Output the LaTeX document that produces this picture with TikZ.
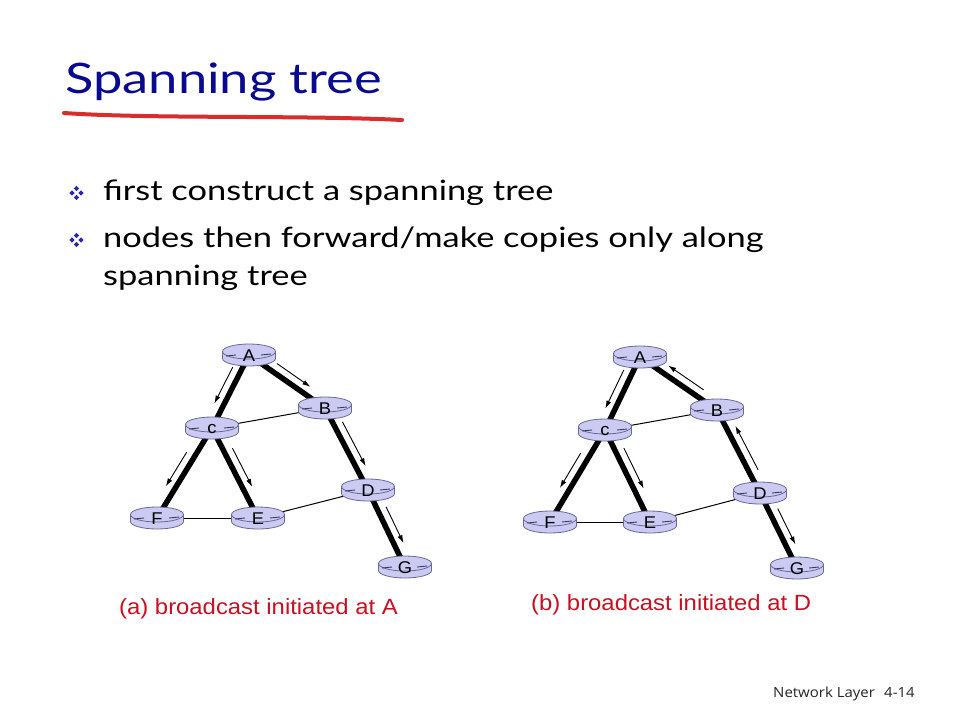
\documentclass[tikz,border=0pt]{standalone}
\usepackage{graphicx}
\usepackage{fontspec}
\setmainfont{Lato}
\newfontfamily\arialf{Liberation Sans}
\newfontfamily\footf{Open Sans}
\usetikzlibrary{calc,arrows.meta,backgrounds}
\definecolor{titleblue}{RGB}{10,10,145}
\definecolor{ulred}{RGB}{215,45,45}
\definecolor{capred}{RGB}{200,16,32}
\definecolor{bulblue}{RGB}{40,40,170}
\definecolor{rfill}{RGB}{202,202,242}
\definecolor{rline}{RGB}{105,105,150}
\definecolor{rdash}{RGB}{60,60,90}
\newcommand\wide[2]{\scalebox{#1}[1]{#2}}
\tikzset{
  pics/router/.style={code={
    \path[fill=rfill,draw=rline,line width=0.8pt] (0,3.5) ellipse [x radius=26.5pt, y radius=7.5pt];
    \fill[rfill] (-26.5,-3.5) rectangle (26.5,3.5);
    \draw[rline,line width=0.8pt] (-26.5,-3.5) -- (-26.5,3.5) (26.5,-3.5) -- (26.5,3.5);
    \path[fill=rfill,draw=rline,line width=0.8pt] (0,-3.5) ellipse [x radius=26.5pt, y radius=7.5pt];
    \draw[rdash,line width=0.9pt] (-23,1) -- (-13,0) (12,0) -- (22,-1);
    \node[font=\arialf\fontsize{17}{17}\selectfont,inner sep=0pt] (-lbl) at (0,1) {\wide{1.08}{#1}};
  }},
  tree/.style={line width=5.5pt,line cap=butt},
  plain/.style={line width=1pt},
  flow/.style={line width=0.9pt,-{Latex[length=8pt,width=5pt]}},
  bullet/.style={fill=bulblue},
  bodytext/.style={anchor=base west,inner sep=0pt,font=\fontsize{28}{28}\selectfont},
  caption/.style={anchor=base west,inner sep=0pt,text=capred,font=\arialf\fontsize{22}{22}\selectfont},
  foottext/.style={anchor=base west,inner sep=0pt,text=black!85,font=\footf\fontsize{14}{14}\selectfont},
}
% arrow parallel to edge: from, to, t1, t2, signed angle
\newcommand\flowarr[5]{\draw[flow] ($(#1)!#3!(#2)!9pt!#5:(#2)$) -- ($(#1)!#4!(#2)!9pt!#5:(#2)$);}
\newcommand\bul[1]{%
  \foreach \dx/\dy in {0/-4.5,0/4.5,-4.5/0,4.5/0}
    \fill[bullet] ($(#1)+(\dx,\dy)$) +(0,-2.6) -- +(2.6,0) -- +(0,2.6) -- +(-2.6,0) -- cycle;}
\begin{document}
\begin{tikzpicture}[x=1pt,y=-1pt]
\useasboundingbox (0,0) rectangle (960,720);
\fill[white] (0,0) rectangle (960,720);

% title
\node[anchor=base west,inner sep=0pt,text=titleblue,font=\fontsize{42}{42}\selectfont] (title) at (65,93) {\wide{1.25}{Spanning tree}};
\coordinate (ul1) at (64,113);
\coordinate (ul2) at (402,120);
\draw[ulred,line width=4pt,line cap=round] (ul1) .. controls (150,119) and (300,115) .. (ul2);

% bullets
\coordinate (b1) at (76.5,193);
\coordinate (b2) at (76.5,240);
\bul{b1}
\bul{b2}
\node[bodytext] (t1) at (103,200) {\wide{1.23}{first construct a spanning tree}};
\node[bodytext] (t2) at (103,247) {\wide{1.23}{nodes then forward/make copies only along}};
\node[bodytext] (t3) at (103,285) {\wide{1.23}{spanning tree}};

% ---------- diagram (a)
\coordinate (aA) at (249,355);
\coordinate (aB) at (325,408);
\coordinate (aC) at (212,428);
\coordinate (aD) at (368,490);
\coordinate (aF) at (157,518);
\coordinate (aE) at (258,518);
\coordinate (aG) at (405,567);
\draw[tree] (aA) -- (aC);
\draw[tree] (aA) -- (aB);
\draw[tree] (aB) -- (aD);
\draw[tree] (aD) -- (aG);
\draw[tree] (aC) -- (aF);
\draw[tree] (aC) -- (aE);
\draw[plain] (aC) -- (aB);
\draw[plain] (aF) -- (aE);
\draw[plain] (aE) -- (aD);
\pic (paA) at (aA) {router=A};
\pic (paB) at (aB) {router=B};
\pic (paC) at (aC) {router=c};
\pic (paD) at (aD) {router=D};
\pic (paF) at (aF) {router=F};
\pic (paE) at (aE) {router=E};
\pic (paG) at (aG) {router=G};
\flowarr{aA}{aC}{0.22}{0.72}{-90}
\flowarr{aA}{aB}{0.3}{0.74}{90}
\flowarr{aB}{aD}{0.22}{0.76}{90}
\flowarr{aC}{aF}{0.32}{0.70}{-90}
\flowarr{aC}{aE}{0.27}{0.70}{90}
\flowarr{aD}{aG}{0.27}{0.74}{90}

% ---------- diagram (b)
\coordinate (bA) at (640,357);
\coordinate (bB) at (717,410);
\coordinate (bC) at (605,430);
\coordinate (bD) at (760,493);
\coordinate (bF) at (550,522);
\coordinate (bE) at (650,522);
\coordinate (bG) at (797,568);
\draw[tree] (bA) -- (bC);
\draw[tree] (bA) -- (bB);
\draw[tree] (bB) -- (bD);
\draw[tree] (bD) -- (bG);
\draw[tree] (bC) -- (bF);
\draw[tree] (bC) -- (bE);
\draw[plain] (bC) -- (bB);
\draw[plain] (bF) -- (bE);
\draw[plain] (bE) -- (bD);
\pic (pbA) at (bA) {router=A};
\pic (pbB) at (bB) {router=B};
\pic (pbC) at (bC) {router=c};
\pic (pbD) at (bD) {router=D};
\pic (pbF) at (bF) {router=F};
\pic (pbE) at (bE) {router=E};
\pic (pbG) at (bG) {router=G};
\flowarr{bA}{bC}{0.23}{0.76}{-90}
\flowarr{bB}{bA}{0.24}{0.70}{-90}
\flowarr{bD}{bB}{0.23}{0.76}{-90}
\flowarr{bC}{bF}{0.30}{0.68}{-90}
\flowarr{bC}{bE}{0.24}{0.68}{90}
\flowarr{bD}{bG}{0.26}{0.74}{90}

% captions
\node[caption] (capa) at (119,614) {\wide{1.085}{(a) broadcast initiated at A}};
\node[caption] (capb) at (531,610) {\wide{1.085}{(b) broadcast initiated at D}};

% footer
\node[foottext] (foot) at (773,697) {\wide{1.07}{Network Layer}};
\node[foottext] (page) at (884,697) {\wide{1.07}{4-14}};
\end{tikzpicture}
\end{document}
